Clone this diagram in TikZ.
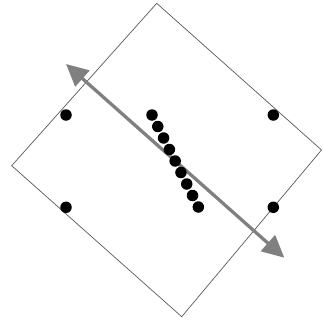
\documentclass[tikz,border=0pt]{standalone}
\usetikzlibrary{arrows.meta}
\begin{document}
\begin{tikzpicture}[x=1pt,y=-1pt,
  dot/.style={circle,fill=black,inner sep=0pt,minimum size=11.5pt},
  frame/.style={draw=black!65,line width=0.7pt},
  axis/.style={draw=black!50,line width=3.3pt,{Triangle[length=22pt,width=21pt]}-{Triangle[length=22pt,width=21pt]}}]
\useasboundingbox (0,0) rectangle (322,324);
\coordinate (T) at (156.7,3.3);
\coordinate (R) at (321.5,150);
\coordinate (B) at (181.7,316.7);
\coordinate (L) at (11.7,165.7);
\draw[frame] (T) -- (R) -- (B) -- (L) -- cycle;
\coordinate (A1) at (66,64);
\coordinate (A2) at (284.3,257.7);
\draw[axis] (A1) -- (A2);
\node[dot] (d1) at (66,115) {};
\node[dot] (d2) at (273.3,115) {};
\node[dot] (d3) at (66,207.3) {};
\node[dot] (d4) at (273.3,207.3) {};
\foreach \i in {0,...,8}{
  \node[dot] (c\i) at ({152+5.79*\i},{115+11.5*\i}) {};
}
\end{tikzpicture}
\end{document}
